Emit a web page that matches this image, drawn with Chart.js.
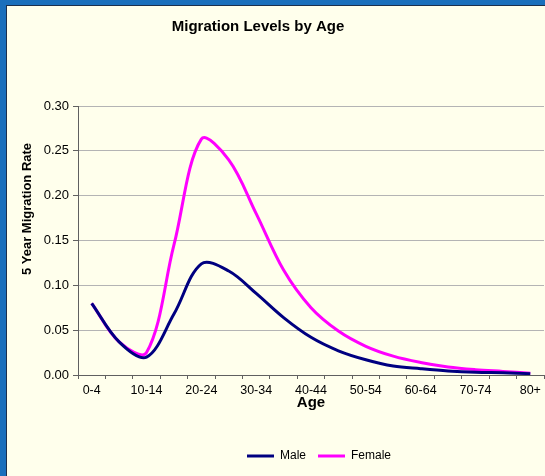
<!DOCTYPE html>
<html>
<head>
<meta charset="utf-8">
<title>Migration Levels by Age</title>
<script src="https://cdn.jsdelivr.net/npm/chart.js@4.4.0/dist/chart.umd.min.js"></script>
<style>
    html, body { margin: 0; padding: 0; background: #1a6fbc; overflow: hidden; }
    #frame { position: absolute; left: 0; top: 0; width: 545px; height: 476px; background: #1a6fbc; overflow: hidden; }
    #inner { position: absolute; left: 6px; top: 5px; width: 539px; height: 471px;
             border-left: 1px solid #1c2f4c; border-top: 1px solid #1c2f4c; background: #ffffec; }
    canvas { display: block; }
</style>
</head>
<body>
<div id="frame">
    <div id="inner">
        <canvas id="migrationChart" width="538" height="470"></canvas>
    </div>
</div>
<script>
    // Data
    const ageGroups = ['0-4', '5-9', '10-14', '15-19', '20-24', '25-29', '30-34', '35-39', '40-44',
        '45-49', '50-54', '55-59', '60-64', '65-69', '70-74', '75-79', '80+'];
    const maleRates = [0.080, 0.037, 0.020, 0.068, 0.124, 0.116, 0.091, 0.064, 0.042,
        0.027, 0.017, 0.010, 0.007, 0.0045, 0.003, 0.0025, 0.0015];
    const femaleRates = [0.080, 0.037, 0.025, 0.145, 0.263, 0.240, 0.180, 0.117, 0.075,
        0.049, 0.032, 0.021, 0.014, 0.009, 0.006, 0.004, 0.002];

    const chartTitle = 'Migration Levels by Age';
    const xTitle = 'Age';
    const yTitle = '5 Year Migration Rate';

    const FONT = "'Liberation Sans', Arial, sans-serif";
    Chart.defaults.font.family = FONT;
    Chart.defaults.color = '#000';

    // Excel places the chart title, y title and legend freely, so position them ourselves
    const excelTitles = {
        id: 'excelTitles',
        afterLayout(chart) {
            // legend sits a little right of the plot centre in the original
            chart.legend.left += 8;
            chart.legend.right += 8;
        },
        afterDraw(chart) {
            const ctx = chart.ctx;
            ctx.save();
            ctx.fillStyle = '#000';
            ctx.textAlign = 'center';
            ctx.textBaseline = 'middle';
            ctx.font = 'bold 15px ' + FONT;
            ctx.fillText(chartTitle, 251, 21);
            ctx.translate(20, 203);
            ctx.rotate(-Math.PI / 2);
            ctx.font = 'bold 13px ' + FONT;
            ctx.fillText(yTitle, 0, 0);
            ctx.restore();
        }
    };

    new Chart(document.getElementById('migrationChart'), {
        type: 'line',
        data: {
            labels: ageGroups,
            datasets: [{
                label: 'Male',
                data: maleRates,
                borderColor: '#000080',
                backgroundColor: '#000080',
                borderWidth: 3,
                pointRadius: 0,
                tension: 0.35
            }, {
                label: 'Female',
                data: femaleRates,
                borderColor: '#ff00ff',
                backgroundColor: '#ff00ff',
                borderWidth: 3,
                pointRadius: 0,
                tension: 0.35
            }]
        },
        options: {
            responsive: false,
            animation: false,
            layout: { padding: { top: 100, right: 1, left: 0, bottom: 4 } },
            scales: {
                x: {
                    offset: true,
                    afterFit: (scale) => { scale.height = 63; },
                    grid: { offset: true, drawOnChartArea: false, tickLength: 4, tickColor: '#606060' },
                    border: { color: '#606060' },
                    ticks: {
                        autoSkip: false, maxRotation: 0, padding: 4,
                        font: { size: 12.5 },
                        callback: (v, i) => (i % 2 === 0 ? ageGroups[i] : '')
                    },
                    title: { display: true, text: xTitle, font: { size: 15, weight: 'bold' }, padding: { top: 0, bottom: 26 } }
                },
                y: {
                    min: 0,
                    max: 0.3,
                    afterFit: (scale) => { scale.width = 71; },
                    grid: { color: '#b4b4b4', tickLength: 5, tickColor: '#606060' },
                    border: { color: '#606060' },
                    ticks: { stepSize: 0.05, padding: 4, font: { size: 13 }, callback: (v) => v.toFixed(2) }
                }
            },
            plugins: {
                legend: {
                    position: 'bottom',
                    fullSize: false,
                    labels: {
                        boxWidth: 27, boxHeight: 3, padding: 12, font: { size: 12 },
                        // plain filled bars, no outline, like Excel's line keys
                        generateLabels: (chart) => Chart.defaults.plugins.legend.labels.generateLabels(chart)
                            .map(item => ({ ...item, lineWidth: 0 }))
                    }
                },
                tooltip: { enabled: false }
            }
        },
        plugins: [excelTitles]
    });
</script>
</body>
</html>
